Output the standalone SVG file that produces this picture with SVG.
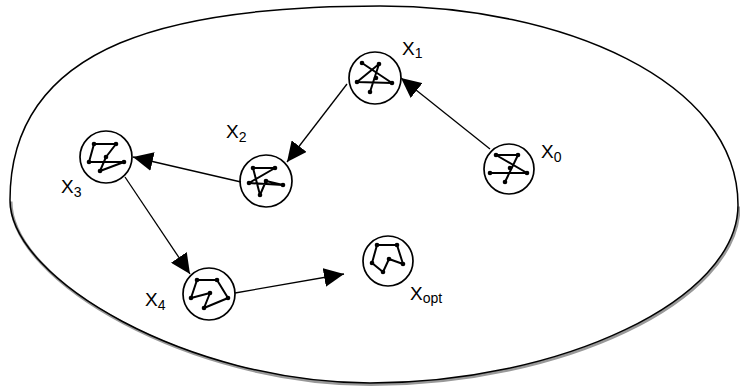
<svg xmlns="http://www.w3.org/2000/svg" width="740" height="389" viewBox="0 0 740 389">
<style>
.ring{fill:none;stroke:#000;stroke-width:1.7}
.tour{fill:none;stroke:#000;stroke-width:2;stroke-linejoin:round}
.dot{fill:#000}
.lbl{font-family:"Liberation Sans",Arial,sans-serif;font-size:19px;fill:#000}
.sub{font-size:14px}
.edge{fill:none;stroke:#000;stroke-width:1.3}
</style>
<defs>
<marker id="ah" viewBox="0 0 20 19" refX="20" refY="9.5" markerWidth="20" markerHeight="19" markerUnits="userSpaceOnUse" orient="auto">
<path d="M0,0 L20,9.5 L0,19 z" fill="#000"/>
</marker>
</defs>
<rect width="740" height="389" fill="#fff"/>
<g id="space">
<path d="M 738,205 C 738,300 560,383 370,383 C 190,383 10,280 10,200" fill="none" stroke="#999" stroke-width="3" transform="translate(1,1.5)"/>
<path d="M 10,200 C 10,40 180,6 380,6 C 560,6 738,80 738,205 C 738,300 560,383 370,383 C 190,383 10,280 10,200 Z" fill="none" stroke="#000" stroke-width="1.5"/>
</g>
<g id="connectors">
<line class="edge" x1="490" y1="149" x2="401" y2="78" marker-end="url(#ah)"/>
<line class="edge" x1="347" y1="84" x2="287" y2="162" marker-end="url(#ah)"/>
<line class="edge" x1="241" y1="182" x2="133" y2="157" marker-end="url(#ah)"/>
<line class="edge" x1="125" y1="177" x2="190" y2="274" marker-end="url(#ah)"/>
<line class="edge" x1="235" y1="293" x2="344" y2="274" marker-end="url(#ah)"/>
</g>
<g id="x0" transform="translate(509,169)">
<circle class="ring" r="25"/>
<path class="tour" d="M-19,4 L18,4 L-13,-14 L9,-14 L-4,13"/>
<g class="dot"><circle cx="-19" cy="4" r="2.3"/><circle cx="18" cy="4" r="2.3"/><circle cx="-13" cy="-14" r="2.3"/><circle cx="9" cy="-14" r="2.3"/><circle cx="-4" cy="13" r="2.3"/><circle cx="1" cy="-1" r="2.3"/></g>
</g>
<g id="x1" transform="translate(375,78)">
<circle class="ring" r="26"/>
<path class="tour" d="M-13,-15 L17,5 L-18,4 L4,-14 L-5,14"/>
<g class="dot"><circle cx="-13" cy="-15" r="2.3"/><circle cx="17" cy="5" r="2.3"/><circle cx="-18" cy="4" r="2.3"/><circle cx="4" cy="-14" r="2.3"/><circle cx="-5" cy="14" r="2.3"/><circle cx="1" cy="0" r="2.3"/></g>
</g>
<g id="x2" transform="translate(266,181)">
<circle class="ring" r="26"/>
<path class="tour" d="M9,-13 L-13,-13 L-6,14 L0,0 L17,4 L-17,2 Z"/>
<g class="dot"><circle cx="9" cy="-13" r="2.3"/><circle cx="-13" cy="-13" r="2.3"/><circle cx="-6" cy="14" r="2.3"/><circle cx="0" cy="0" r="2.3"/><circle cx="17" cy="4" r="2.3"/><circle cx="-17" cy="2" r="2.3"/></g>
</g>
<g id="x3" transform="translate(106,157)">
<circle class="ring" r="26"/>
<path class="tour" d="M10,-13 L-12,-13 L-17,5 L18,5 L-6,14 L0,0 Z"/>
<g class="dot"><circle cx="10" cy="-13" r="2.3"/><circle cx="-12" cy="-13" r="2.3"/><circle cx="-17" cy="5" r="2.3"/><circle cx="18" cy="5" r="2.3"/><circle cx="-6" cy="14" r="2.3"/><circle cx="0" cy="0" r="2.3"/></g>
</g>
<g id="x4" transform="translate(209,294)">
<circle class="ring" r="26"/>
<path class="tour" d="M-18,4 L-12,-14 L8,-14 L19,4 L-5,14 L1,-1 L-18,4"/>
<g class="dot"><circle cx="-18" cy="4" r="2.3"/><circle cx="-12" cy="-14" r="2.3"/><circle cx="8" cy="-14" r="2.3"/><circle cx="19" cy="4" r="2.3"/><circle cx="-5" cy="14" r="2.3"/><circle cx="1" cy="-1" r="2.3"/></g>
</g>
<g id="xopt" transform="translate(388,261)">
<circle class="ring" r="25"/>
<path class="tour" d="M-11,-16 L9,-16 L15,3 L1,-2 L-5,11 L-16,2 Z"/>
<g class="dot"><circle cx="-11" cy="-16" r="2.3"/><circle cx="9" cy="-16" r="2.3"/><circle cx="15" cy="3" r="2.3"/><circle cx="1" cy="-2" r="2.3"/><circle cx="-5" cy="11" r="2.3"/><circle cx="-16" cy="2" r="2.3"/></g>
</g>
<g id="labels">
<text class="lbl" x="541" y="158">X<tspan class="sub" dy="4">0</tspan></text>
<text class="lbl" x="402" y="55">X<tspan class="sub" dy="3">1</tspan></text>
<text class="lbl" x="226" y="138">X<tspan class="sub" dy="4">2</tspan></text>
<text class="lbl" x="61" y="193">X<tspan class="sub" dy="4">3</tspan></text>
<text class="lbl" x="145" y="306">X<tspan class="sub" dy="4">4</tspan></text>
<text class="lbl" x="410" y="300">X<tspan class="sub" dy="3">opt</tspan></text>
</g>
</svg>
